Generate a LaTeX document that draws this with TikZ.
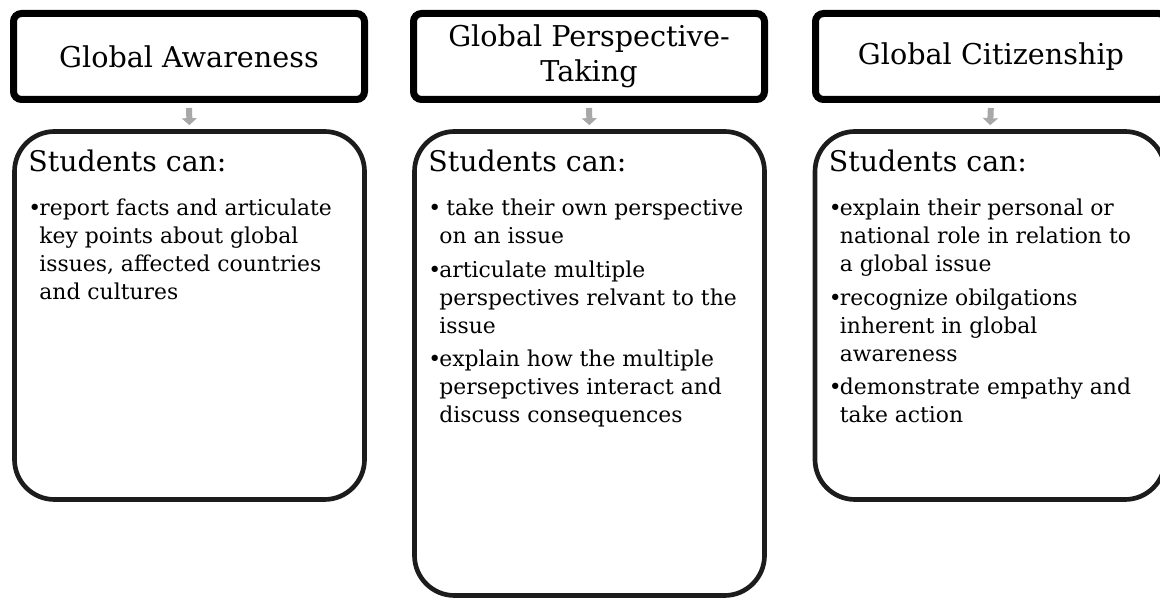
\documentclass[tikz,border=0pt]{standalone}
\usepackage{fontspec}
\setmainfont{DejaVu Serif}
\usetikzlibrary{positioning,arrows.meta,shadows}
\newcommand{\bul}{\makebox[8.25pt][l]{\textbullet}}
\newcommand{\cont}{\hspace*{8.25pt}}
\definecolor{arrowgray}{RGB}{168,168,168}
\definecolor{boxline}{RGB}{28,28,28}
\tikzset{
  headbox/.style={draw=black,line width=5.25pt,rounded corners=6pt,fill=white,
    minimum width=263.25pt,minimum height=64.5pt,inner sep=2pt,align=center,
    font=\fontsize{21.5}{26}\selectfont,
    drop shadow={shadow xshift=0.75pt,shadow yshift=-2.25pt,opacity=0.25,fill=black}},
  bodybox/.style={draw=boxline,line width=3.5pt,rounded corners=30pt,
    minimum width=262.5pt,inner sep=0pt},
  listtext/.style={inner sep=0pt,align=left,font=\fontsize{16.4}{21}\selectfont},
  flowarrow/.style={draw=arrowgray,line width=4.5pt,
    -{Triangle[width=11.25pt,length=5.25pt]},shorten <=3.75pt,shorten >=3pt}
}
\begin{document}
\begin{tikzpicture}[x=0.75pt,y=-0.75pt]
    \useasboundingbox (0,0) rectangle (1160,598);
    \clip (0,0) rectangle (1160,598);
    %% headings
    \node[headbox] (aware) at (189,56.5) {Global Awareness};
    \node[headbox] (persp) at (589,56.5) {Global Perspective-\\Taking};
    \node[headbox] (citizen) at (991,56.5) {Global Citizenship};
    %% boxes below
    \node[bodybox,minimum height=276pt] (awarebody) at (189.5,315.5) {};
    \node[bodybox,minimum height=348pt] (perspbody) at (589.5,363.5) {};
    \node[bodybox,minimum height=276pt] (citizenbody) at (990,315.5) {};
    %% arrows
    \draw[flowarrow] (aware.south) -- (awarebody.north);
    \draw[flowarrow] (persp.south) -- (perspbody.north);
    \draw[flowarrow] (citizen.south) -- (citizenbody.north);
    %% lists
    \node[listtext,below right=15.5pt and 12pt of awarebody.north west] (awarelist)
        {{\fontsize{21.3}{30}\selectfont Students can:}\\[12pt]
         \bul report facts and articulate\\
         \cont key points about global\\
         \cont issues, affected countries\\
         \cont and cultures};
    \node[listtext,below right=15.5pt and 12pt of perspbody.north west] (persplist)
        {{\fontsize{21.3}{30}\selectfont Students can:}\\[12pt]
         \bul\ take their own perspective\\
         \cont on an issue\\[4pt]
         \bul articulate multiple\\
         \cont perspectives relvant to the\\
         \cont issue\\[4pt]
         \bul explain how the multiple\\
         \cont persepctives interact and\\
         \cont discuss consequences};
    \node[listtext,below right=15.5pt and 12pt of citizenbody.north west] (citizenlist)
        {{\fontsize{21.3}{30}\selectfont Students can:}\\[12pt]
         \bul explain their personal or\\
         \cont national role in relation to\\
         \cont a global issue\\[4pt]
         \bul recognize obilgations\\
         \cont inherent in global\\
         \cont awareness\\[4pt]
         \bul demonstrate empathy and\\
         \cont take action};
\end{tikzpicture}
\end{document}
